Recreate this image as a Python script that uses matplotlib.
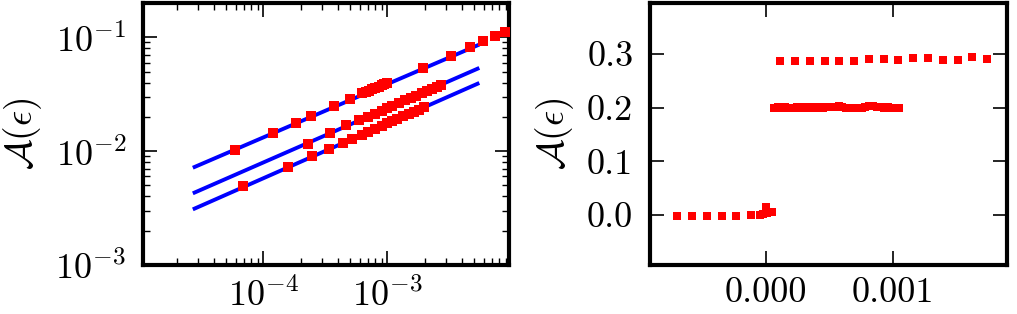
import matplotlib
matplotlib.use('Agg')
import matplotlib.pyplot as plt
from matplotlib.ticker import MultipleLocator, FormatStrFormatter, NullLocator

plt.rcParams['font.family'] = 'serif'
plt.rcParams['font.serif'] = ['cmr10']
plt.rcParams['mathtext.fontset'] = 'cm'
plt.rcParams['axes.formatter.use_mathtext'] = True
plt.rcParams['axes.unicode_minus'] = False

# ---------------- left panel data (log-log) ----------------
top_x = [5.86e-5, 1.19e-4, 1.82e-4, 2.43e-4, 3.70e-4, 4.97e-4,
         6.3e-4, 6.7e-4, 7.1e-4, 7.5e-4, 8.0e-4, 8.5e-4, 9.0e-4, 9.5e-4, 1.0e-3,
         1.95e-3, 3.28e-3, 4.64e-3, 5.97e-3, 7.43e-3, 8.97e-3]
top_y = [0.0102, 0.0145, 0.0177, 0.0204, 0.0248, 0.0288,
         0.0322, 0.0331, 0.0340, 0.0349, 0.0359, 0.0369, 0.0379, 0.0389, 0.0399,
         0.054, 0.069, 0.0822, 0.0922, 0.102, 0.111]

mid_x = [2.30e-4, 3.48e-4, 4.67e-4, 5.89e-4,
         7.0e-4, 8.0e-4, 9.0e-4, 1.0e-3, 1.1e-3, 1.25e-3, 1.4e-3, 1.55e-3,
         1.7e-3, 1.9e-3, 2.1e-3, 2.3e-3, 2.5e-3, 2.7e-3]
mid_y = [0.0115, 0.0145, 0.0168, 0.0186,
         0.0201, 0.0214, 0.0227, 0.0238, 0.0249, 0.0265, 0.0280, 0.0294,
         0.0307, 0.0324, 0.0339, 0.0354, 0.0369, 0.0383]

low_x = [6.85e-5, 1.58e-4, 2.49e-4, 3.41e-4, 4.39e-4, 5.24e-4,
         6.2e-4, 7.0e-4, 8.0e-4, 9.0e-4, 1.0e-3, 1.1e-3, 1.2e-3, 1.35e-3,
         1.5e-3, 1.65e-3, 1.8e-3, 1.97e-3]
low_y = [0.0049, 0.00725, 0.0090, 0.01042, 0.0118, 0.0129,
         0.0139, 0.0147, 0.0157, 0.0166, 0.0175, 0.0183, 0.0191, 0.0202,
         0.0212, 0.0222, 0.0232, 0.0243]

fit_x = [2.7e-5, 5.53e-3]
fit_top = [7.15e-3, 0.0863]
fit_mid = [4.26e-3, 0.0538]
fit_low = [3.08e-3, 0.0397]

# ---------------- right panel data (linear) ----------------
r_zero_x = [-0.698e-3, -0.580e-3, -0.461e-3, -0.343e-3, -0.231e-3, -0.113e-3,
            -0.046e-3, -0.020e-3, 0.0, 0.012e-3, 0.030e-3, 0.048e-3]
r_zero_y = [-0.001, -0.001, -0.001, -0.001, -0.001, 0.000,
            0.000, 0.002, 0.014, 0.004, 0.006, 0.006]

r_mid_x = [0.065e-3, 0.095e-3, 0.125e-3, 0.155e-3, 0.185e-3, 0.215e-3, 0.245e-3,
           0.275e-3, 0.305e-3, 0.335e-3, 0.365e-3, 0.395e-3, 0.425e-3, 0.455e-3,
           0.485e-3, 0.515e-3, 0.545e-3, 0.575e-3, 0.605e-3, 0.635e-3, 0.665e-3,
           0.695e-3, 0.725e-3, 0.755e-3, 0.785e-3, 0.815e-3, 0.845e-3, 0.875e-3,
           0.905e-3, 0.935e-3, 0.965e-3, 0.995e-3, 1.025e-3, 1.050e-3]
r_mid_y = [0.200, 0.201, 0.200, 0.201, 0.200, 0.200, 0.201,
           0.200, 0.201, 0.200, 0.201, 0.200, 0.201, 0.200,
           0.201, 0.201, 0.202, 0.203, 0.201, 0.199, 0.200,
           0.199, 0.200, 0.200, 0.202, 0.203, 0.203, 0.202,
           0.201, 0.200, 0.201, 0.200, 0.200, 0.200]

r_top_x = [0.114e-3, 0.234e-3, 0.349e-3, 0.465e-3, 0.580e-3, 0.696e-3, 0.814e-3,
           0.929e-3, 1.045e-3, 1.163e-3, 1.276e-3, 1.397e-3, 1.515e-3, 1.628e-3,
           1.743e-3]
r_top_y = [0.287, 0.287, 0.2875, 0.2875, 0.2875, 0.2875, 0.291,
           0.291, 0.289, 0.293, 0.293, 0.289, 0.289, 0.294, 0.291]

ylabel = r'$\mathcal{A}(\epsilon)$'

W, H = 1017, 314
fig = plt.figure(figsize=(W / 100, H / 100), dpi=100)

ax1 = fig.add_axes([143 / W, 1 - 265 / H, 366 / W, 262 / H])
ax2 = fig.add_axes([650 / W, 1 - 265 / H, 357 / W, 262 / H])

blue = '#0000ff'
red = '#ff0000'

for fy in (fit_top, fit_mid, fit_low):
    ax1.plot(fit_x, fy, '-', color=blue, lw=2.8, solid_capstyle='butt', zorder=2)
for xs, ys in ((top_x, top_y), (mid_x, mid_y), (low_x, low_y)):
    ax1.plot(xs, ys, 's', color=red, ms=7.5, mew=0, zorder=3)

ax1.set_xscale('log')
ax1.set_yscale('log')
ax1.set_xlim(1.07e-5, 9.6e-3)
ax1.set_ylim(1e-3, 0.2)

for xs, ys in ((r_zero_x, r_zero_y), (r_mid_x, r_mid_y), (r_top_x, r_top_y)):
    ax2.plot(xs, ys, 's', color=red, ms=5.6, mew=0)
ax2.set_xlim(-0.00091, 0.0019)
ax2.set_ylim(-0.0932, 0.395)
ax2.xaxis.set_major_locator(MultipleLocator(0.001))
ax2.xaxis.set_major_formatter(FormatStrFormatter('%.3f'))
ax2.yaxis.set_major_locator(MultipleLocator(0.1))
ax2.yaxis.set_major_formatter(FormatStrFormatter('%.1f'))
ax2.xaxis.set_minor_locator(NullLocator())
ax2.yaxis.set_minor_locator(NullLocator())

for ax in (ax1, ax2):
    for sp in ax.spines.values():
        sp.set_linewidth(3.0)
    ax.tick_params(which='both', direction='in', top=True, right=True,
                   labelsize=26)
    ax.tick_params(which='major', length=10, width=1.2)
    ax.tick_params(which='minor', length=5, width=1.0)
    ax.tick_params(axis='y', which='major', pad=12)
    ax.tick_params(axis='x', which='major', pad=9)
    ax.set_ylabel(ylabel, fontsize=27, labelpad=8)

fig.savefig('out.png', dpi=100)
